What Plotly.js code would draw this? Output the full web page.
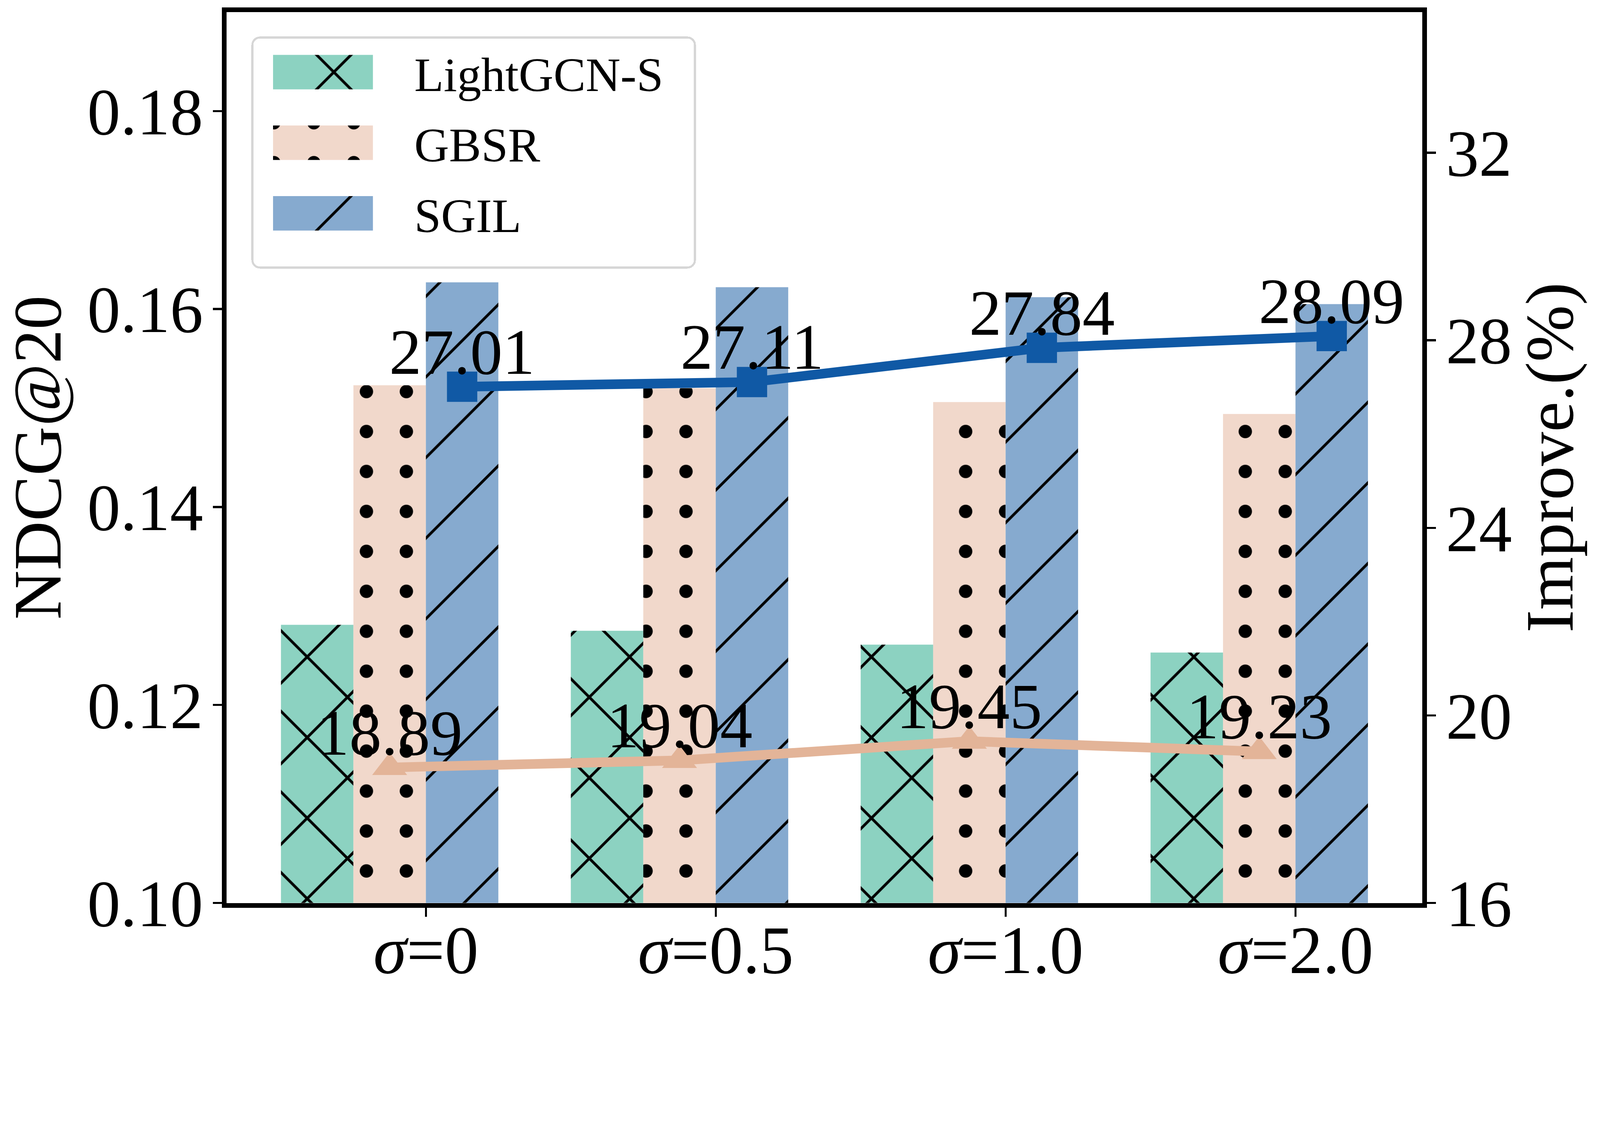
<!DOCTYPE html>
<html>
<head>
<meta charset="utf-8">
<script src="https://cdn.plot.ly/plotly-3.0.1.min.js"></script>
<style>
  html, body { margin: 0; padding: 0; background: #fff; overflow: hidden; }
  #wrap { overflow: hidden; position: relative; }
  #chart { width: 4646px; height: 2903px; transform-origin: 0 0; }
</style>
</head>
<body>
<div id="wrap"><div id="chart"></div></div>
<script>
// sigma settings on the x axis
const sigmas = ["0", "0.5", "1.0", "2.0"];

// NDCG@20 per model (left axis)
const lightgcnS = [0.1281, 0.1275, 0.1261, 0.1253];
const gbsr = [0.1523, 0.1520, 0.1506, 0.1494];
const sgil = [0.1627, 0.1622, 0.1612, 0.1605];

// improvement in % (right axis)
const improveGbsr = [18.89, 19.04, 19.45, 19.23];
const improveSgil = [27.01, 27.11, 27.84, 28.09];

const leftTicks = [0.10, 0.12, 0.14, 0.16, 0.18];
const rightTicks = [16, 20, 24, 28, 32];

const W = 4646, H = 2903;
const FONT = "Liberation Serif, Times New Roman, serif";
const barWidth = 0.25;
const idx = sigmas.map((s, i) => i);

const greenC = "#8cd2c1";
const peachC = "#f1d8cb";
const blueC = "#86aacf";

// the window can be narrower than the figure: scale it down to fit the width
const wrap = document.getElementById("wrap");
const chart = document.getElementById("chart");
const k = (window.innerWidth / W) || 1;
wrap.style.width = window.innerWidth + "px";
wrap.style.height = window.innerHeight + "px";
chart.style.transform = "scale(" + k + ")";

const barTrace = (name, y, color, offset, shape, size, solidity, group) => ({
  type: "bar",
  name: name,
  x: idx,
  y: y,
  width: barWidth,
  offset: offset,
  legendgroup: group,
  marker: {
    color: color,
    line: { width: 0 },
    pattern: {
      shape: shape,
      size: size,
      solidity: solidity,
      fgcolor: "#000000",
      fgopacity: 1,
      bgcolor: color,
      fillmode: "overlay",
    },
  },
  hoverinfo: "none",
});

const lineTrace = (y, color, symbol, msize, shift) => ({
  type: "scatter",
  mode: "lines+markers",
  x: idx.map((i) => i + shift),
  y: y,
  yaxis: "y2",
  showlegend: false,
  line: { color: color, width: 28 },
  marker: { color: color, symbol: symbol, size: msize },
  cliponaxis: false,
  hoverinfo: "none",
});

const data = [
  barTrace("LightGCN-S", lightgcnS, greenC, -0.5, "x", 165.5, 0.094, "a"),
  barTrace("GBSR", gbsr, peachC, -0.25, ".", 116, 0.088, "b"),
  barTrace("SGIL", sgil, blueC, 0, "/", 165.5, 0.048, "c"),
  lineTrace(improveGbsr, "#e3b498", "triangle-up", 88, -0.125),
  lineTrace(improveSgil, "#1059a5", "square", 88, 0.125),
];

// value labels sitting just above the markers
const labels = [];
[[improveGbsr, -0.125], [improveSgil, 0.125]].forEach(([vals, shift]) => {
  vals.forEach((v, i) => {
    labels.push({
      x: i + shift,
      y: v,
      xref: "x",
      yref: "y2",
      text: v.toFixed(2),
      showarrow: false,
      xanchor: "center",
      yanchor: "bottom",
      yshift: -5,
      font: { family: FONT, size: 188, color: "#000" },
    });
  });
});

const axisCommon = {
  showline: true,
  linecolor: "#000",
  linewidth: 14,
  ticks: "outside",
  ticklen: 26,
  tickwidth: 6,
  tickcolor: "#000",
  showgrid: false,
  zeroline: false,
  tickfont: { family: FONT, size: 192, color: "#000" },
};

const layout = {
  width: W,
  height: H,
  margin: { l: 658, r: 516, t: 35, b: 281 },
  paper_bgcolor: "#fff",
  plot_bgcolor: "#fff",
  font: { family: FONT, color: "#000" },
  barmode: "overlay",
  showlegend: true,
  xaxis: Object.assign({}, axisCommon, {
    range: [-0.6875, 3.4375],
    tickvals: idx,
    ticktext: sigmas.map((s) => "<i>σ</i>=" + s),
    tickfont: { family: FONT, size: 196, color: "#000" },
    mirror: true,
    ticklabelstandoff: -72,
  }),
  yaxis: Object.assign({}, axisCommon, {
    range: [0.10, 0.19],
    tickvals: leftTicks,
    tickformat: ".2f",
    ticklabelstandoff: -10,
    title: { text: "NDCG@20", font: { family: FONT, size: 198 }, standoff: 113 },
  }),
  yaxis2: Object.assign({}, axisCommon, {
    overlaying: "y",
    side: "right",
    range: [16, 35],
    tickvals: rightTicks,
    ticklabelstandoff: -10,
    title: { text: "Improve.(%)", font: { family: FONT, size: 198 }, standoff: 28 },
  }),
  legend: {
    x: 0.0207,
    y: 0.9726,
    xanchor: "left",
    yanchor: "top",
    bgcolor: "#fff",
    bordercolor: "#d6d6d6",
    borderwidth: 6,
    font: { family: FONT, size: 140, color: "#000" },
    traceorder: "grouped",
    tracegroupgap: 20,
    itemwidth: 457,
  },
  annotations: labels,
};

const config = { staticPlot: true, responsive: false };

Plotly.newPlot("chart", data, layout, config).then((gd) => {
  // widen the legend swatches and reuse the bar hatch fills
  const bars = gd.querySelectorAll(".barlayer .trace");
  const items = gd.querySelectorAll(".legend .traces");
  items.forEach((g, i) => {
    const sw = g.querySelector("path.legendbar") || g.querySelector(".legendpoints path");
    const bar = bars[i] && bars[i].querySelector(".point path");
    if (!sw || !bar) return;
    sw.setAttribute("d", "M-176.5,-50H113.5V50H-176.5Z");
    sw.style.fill = bar.style.fill;
  });
  // legend frame: a bit roomier, rounded corners
  const bg = gd.querySelector(".legend rect.bg");
  if (bg) {
    bg.setAttribute("width", parseFloat(bg.getAttribute("width")) + 83);
    bg.setAttribute("height", parseFloat(bg.getAttribute("height")) + 57);
    bg.setAttribute("rx", 22);
    bg.setAttribute("ry", 22);
  }
});
</script>
</body>
</html>
